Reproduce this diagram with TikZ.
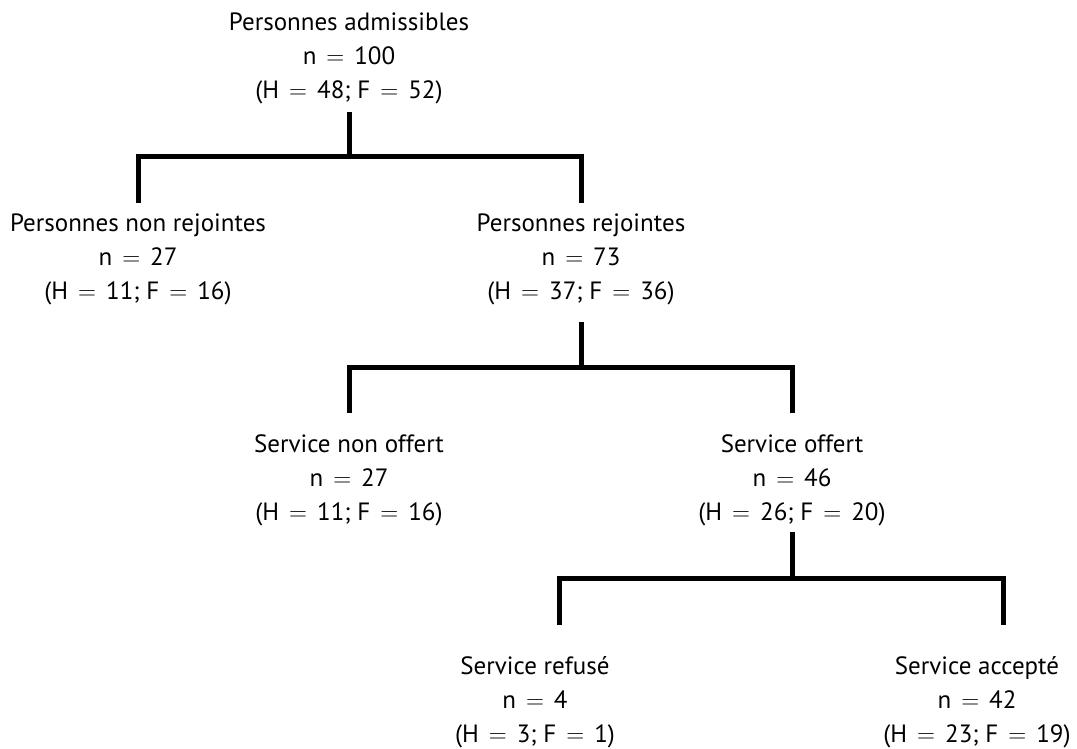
\documentclass[tikz,border=0pt]{standalone}
\usepackage{fontspec}
\setmainfont{PT Sans}
\usepackage{tikz}
\usetikzlibrary{calc}

% wide equals sign as in the original
\newcommand{\eq}{\hspace{0.4em}$=$\hspace{0.4em}}
% title, n, H, F
\newcommand{\info}[4]{\begin{tabular}[t]{@{}c@{}}#1\\n\eq#2\\(H\eq#3; F\eq#4)\end{tabular}}

\tikzset{
  box/.style={anchor=base, inner sep=0pt,
    font=\fontsize{25}{34}\selectfont},
  link/.style={line width=5pt, black}
}

\begin{document}
\begin{tikzpicture}[x=1pt, y=1pt]
  \useasboundingbox (0,0) rectangle (1077,-749);

  % level 0
  \node[box] (adm) at (349,-31) {\info{Personnes admissibles}{100}{48}{52}};
  % level 1
  \node[box] (nonrej) at (138,-232) {\info{Personnes non rejointes}{27}{11}{16}};
  \node[box] (rej) at (581,-232) {\info{Personnes rejointes}{73}{37}{36}};
  % level 2
  \node[box] (nonoff) at (349,-452) {\info{Service non offert}{27}{11}{16}};
  \node[box] (off) at (792,-452) {\info{Service offert}{46}{26}{20}};
  % level 3
  \node[box] (ref) at (535,-674) {\info{Service refusé}{4}{3}{1}};
  \node[box] (acc) at (977,-674) {\info{Service accepté}{42}{23}{19}};

  % junctions
  \coordinate (j1) at (349,-157);
  \coordinate (j2) at (581,-367);
  \coordinate (j3) at (792,-578);

  \draw[link, shorten <=3pt, shorten >=5pt] (adm.south) -- (j1) -| (nonrej.north);
  \draw[link, shorten >=5pt] (j1) -| (rej.north);
  \draw[link, shorten <=12pt, shorten >=15pt] (rej.south) -- (j2) -| (nonoff.north);
  \draw[link, shorten >=15pt] (j2) -| (off.north);
  \draw[link, shorten <=2pt, shorten >=25pt] (off.south) -- (j3) -| ($(ref.north)+(24,0)$);
  \draw[link, shorten >=25pt] (j3) -| ($(acc.north)+(26,0)$);
\end{tikzpicture}
\end{document}
